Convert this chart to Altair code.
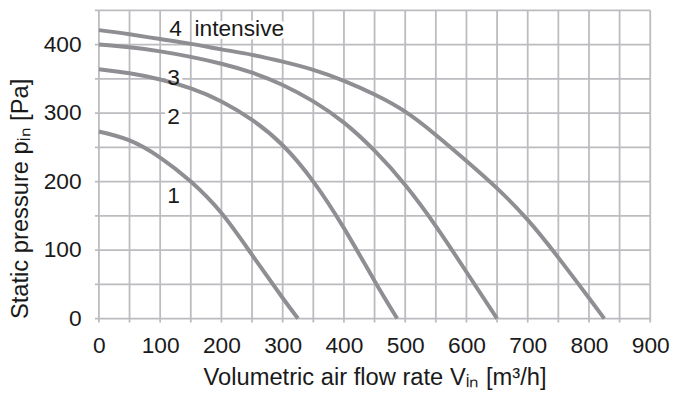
import altair as alt
import pandas as pd

# Curve data (volumetric flow [m3/h], static pressure [Pa])
c1_x = [0, 50, 100, 150, 200, 250, 300, 325]
c1_y = [273, 260, 235, 200, 154, 93, 30, 0]
c2_x = [0, 50, 100, 150, 200, 250, 300, 350, 400, 450, 487]
c2_y = [364, 358, 349, 336, 317, 290, 253, 200, 132, 55, 0]
c3_x = [0, 50, 100, 150, 200, 250, 300, 350, 400, 450, 500, 550, 600, 650]
c3_y = [400, 396, 390, 382, 372, 359, 341, 317, 286, 245, 195, 135, 68, 0]
c4_x = [0, 50, 100, 150, 200, 250, 300, 350, 400, 450, 500, 550, 600, 650, 700, 750, 800, 825]
c4_y = [421, 415, 408, 401, 393, 385, 375, 363, 347, 327, 302, 268, 230, 190, 144, 89, 30, 0]

# Curve labels
lab_text = ["4", "intensive", "3", "2", "1"]
lab_x = [125, 156, 122, 122, 122]
lab_y = [412, 412, 340.5, 284.5, 169]
lab_align = ["center", "left", "center", "center", "center"]

# Grid lines and tick labels
x_grid = list(range(0, 901, 50))
y_grid = list(range(0, 451, 50))
x_labels = list(range(0, 901, 100))
y_labels = list(range(0, 401, 100))

W, H = 558, 312

rows = []
for name, xs, ys in [("1", c1_x, c1_y), ("2", c2_x, c2_y), ("3", c3_x, c3_y), ("4", c4_x, c4_y)]:
    for xv, yv in zip(xs, ys):
        rows.append({"curve": name, "flow": xv, "pressure": yv})
df = pd.DataFrame(rows)
labels = pd.DataFrame({"text": lab_text, "flow": lab_x, "pressure": lab_y, "align": lab_align})
xg = pd.DataFrame({"flow": x_grid})
yg = pd.DataFrame({"pressure": y_grid})

FONT = "Liberation Sans"
GRID = "#bcbcc0"
CURVE = "#8f8f93"
TXT = "#1a1a1a"

xscale = alt.Scale(domain=[0, 900], nice=False, zero=False)
yscale = alt.Scale(domain=[0, 450], nice=False, zero=False)

xaxis = alt.Axis(
    values=x_labels, grid=False, ticks=False, domain=False,
    labelFont=FONT, labelFontSize=23, labelColor=TXT, labelPadding=16, labelFlush=False,
    labelOverlap=False,
    title="Volumetric air flow rate Vᵢₙ [m³/h]", titleFont=FONT, titleFontSize=24,
    titleFontWeight="normal", titleColor=TXT, titlePadding=9,
)
yaxis = alt.Axis(
    values=y_labels, grid=False, ticks=False, domain=False,
    labelFont=FONT, labelFontSize=23, labelColor=TXT, labelPadding=18, labelFlush=False,
    labelOverlap=False,
    title="Static pressure pᵢₙ [Pa]", titleFont=FONT, titleFontSize=24,
    titleFontWeight="normal", titleColor=TXT, titlePadding=11, titleAnchor="start",
)

X = alt.X("flow:Q", scale=xscale, axis=xaxis)
Y = alt.Y("pressure:Q", scale=yscale, axis=yaxis)

vgrid = alt.Chart(xg).mark_rule(color=GRID, strokeWidth=1.8).encode(
    x=X, y=alt.value(0), y2=alt.value(H + 4)
)
hgrid = alt.Chart(yg).mark_rule(color=GRID, strokeWidth=1.8).encode(
    y=Y, x=alt.value(-4), x2=alt.value(W)
)

base_lines = alt.Chart(df).mark_line(
    color=CURVE, strokeWidth=4, interpolate="natural", strokeCap="butt"
).encode(x=X, y=Y, detail="curve:N")

def text_layer(halo):
    layers = []
    for al in ["center", "left"]:
        sub = labels[labels["align"] == al]
        kw = dict(align=al, baseline="alphabetic", font=FONT, fontSize=23)
        if halo:
            kw.update(color="white", stroke="white", strokeWidth=7, strokeJoin="round")
        else:
            kw.update(color=TXT)
        layers.append(
            alt.Chart(sub).mark_text(**kw).encode(x=X, y=Y, text="text:N")
        )
    return layers

chart = alt.layer(
    vgrid, hgrid, *text_layer(True), base_lines, *text_layer(False)
).properties(
    width=W, height=H,
    autosize=alt.AutoSizeParams(type="none"),
    padding={"left": 92, "top": 0, "right": 20, "bottom": 72},
).configure_view(stroke=None)

chart.save("out.html", embed_options={"renderer": "svg", "actions": False})
